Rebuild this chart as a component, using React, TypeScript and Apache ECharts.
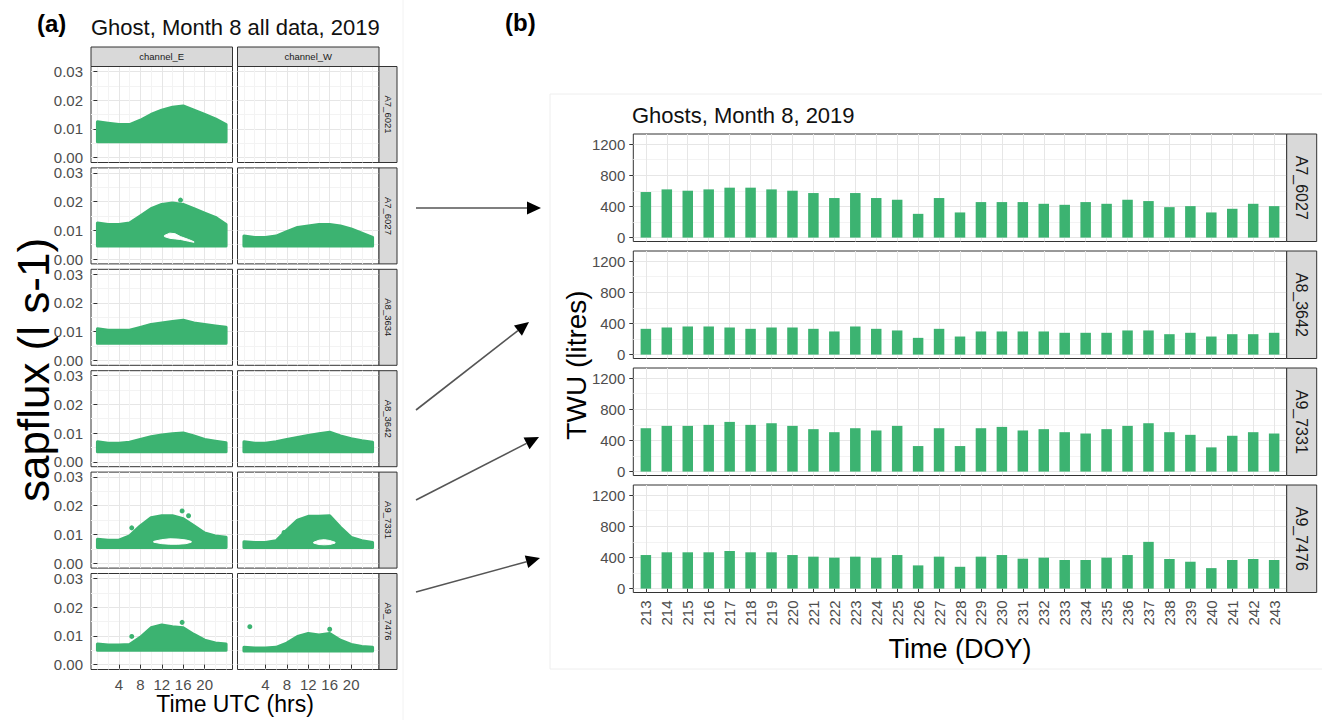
import React, { useEffect, useRef } from 'react';
import * as echarts from 'echarts';

// ---------------- DATA ----------------
// Panel (a): sap flux clouds, envelopes read per 2-hour step
const HOURS = [0, 2, 4, 6, 8, 10, 12, 14, 16, 18, 20, 22, 24];
const ROW_LABELS = ['A7_6021', 'A7_6027', 'A8_3634', 'A8_3642', 'A9_7331', 'A9_7476'];
const COL_LABELS = ['channel_E', 'channel_W'];

const A7_6021_E_HI = [0.0125, 0.012, 0.0115, 0.0115, 0.013, 0.015, 0.0165, 0.0175, 0.018, 0.0165, 0.015, 0.0135, 0.0115];
const A7_6021_E_LO = [0.0055, 0.0055, 0.0055, 0.0055, 0.0055, 0.0055, 0.0055, 0.0055, 0.0055, 0.0055, 0.0055, 0.0055, 0.0055];
const A7_6027_E_HI = [0.0125, 0.012, 0.012, 0.0125, 0.015, 0.0175, 0.019, 0.0195, 0.019, 0.0175, 0.016, 0.0145, 0.012];
const A7_6027_E_LO = [0.0045, 0.0045, 0.0045, 0.0045, 0.0045, 0.0045, 0.0045, 0.0045, 0.0045, 0.0045, 0.0045, 0.0045, 0.0045];
const A7_6027_W_HI = [0.008, 0.0075, 0.0075, 0.008, 0.0095, 0.011, 0.0115, 0.012, 0.012, 0.0115, 0.0105, 0.009, 0.0075];
const A7_6027_W_LO = [0.0045, 0.0045, 0.0045, 0.0045, 0.0045, 0.0045, 0.0045, 0.0045, 0.0045, 0.0045, 0.0045, 0.0045, 0.0045];
const A8_3634_E_HI = [0.011, 0.0105, 0.0105, 0.0105, 0.0115, 0.0125, 0.013, 0.0135, 0.014, 0.013, 0.0125, 0.012, 0.0115];
const A8_3634_E_LO = [0.006, 0.006, 0.006, 0.006, 0.006, 0.006, 0.006, 0.006, 0.006, 0.006, 0.006, 0.006, 0.006];
const A8_3642_E_HI = [0.007, 0.0065, 0.0065, 0.0068, 0.0078, 0.0087, 0.0093, 0.0098, 0.01, 0.009, 0.0078, 0.0072, 0.0066];
const A8_3642_E_LO = [0.0035, 0.0035, 0.0035, 0.0035, 0.0035, 0.0035, 0.0035, 0.0035, 0.0035, 0.0035, 0.0035, 0.0035, 0.0035];
const A8_3642_W_HI = [0.007, 0.0065, 0.0065, 0.007, 0.0078, 0.0085, 0.0092, 0.0098, 0.0103, 0.009, 0.008, 0.0073, 0.0068];
const A8_3642_W_LO = [0.0035, 0.0035, 0.0035, 0.0035, 0.0035, 0.0035, 0.0035, 0.0035, 0.0035, 0.0035, 0.0035, 0.0035, 0.0035];
const A9_7331_E_HI = [0.0083, 0.008, 0.008, 0.0095, 0.013, 0.0158, 0.0165, 0.0165, 0.0155, 0.013, 0.0105, 0.0095, 0.009];
const A9_7331_E_LO = [0.0055, 0.0055, 0.0055, 0.0055, 0.0055, 0.0055, 0.0055, 0.0055, 0.0055, 0.0055, 0.0055, 0.0055, 0.0055];
const A9_7331_W_HI = [0.0075, 0.0072, 0.0072, 0.0078, 0.0115, 0.015, 0.0163, 0.0163, 0.0165, 0.0125, 0.009, 0.0078, 0.0072];
const A9_7331_W_LO = [0.0055, 0.0055, 0.0055, 0.0055, 0.0055, 0.0055, 0.0055, 0.0055, 0.0055, 0.0055, 0.0055, 0.0055, 0.0055];
const A9_7476_E_HI = [0.0072, 0.0068, 0.0068, 0.007, 0.0095, 0.0128, 0.0138, 0.0132, 0.0128, 0.0105, 0.0085, 0.0075, 0.0072];
const A9_7476_E_LO = [0.005, 0.005, 0.005, 0.005, 0.005, 0.005, 0.005, 0.005, 0.005, 0.005, 0.005, 0.005, 0.005];
const A9_7476_W_HI = [0.006, 0.0058, 0.0058, 0.006, 0.0075, 0.0098, 0.0108, 0.0103, 0.0108, 0.0085, 0.007, 0.0063, 0.006];
const A9_7476_W_LO = [0.0047, 0.0047, 0.0047, 0.0047, 0.0047, 0.0047, 0.0047, 0.0047, 0.0047, 0.0047, 0.0047, 0.0047, 0.0047];

// white gaps inside clouds
const HOLE_A7_6027_E_H = [12.5, 13.5, 14.5, 15.5, 17, 18];
const HOLE_A7_6027_E_HI = [0.0082, 0.009, 0.0088, 0.0078, 0.0068, 0.006];
const HOLE_A7_6027_E_LO = [0.0078, 0.0072, 0.007, 0.0068, 0.0062, 0.0058];
const HOLE_A9_7331_E_H = [10.5, 12, 13.5, 15, 16.5, 17.5];
const HOLE_A9_7331_E_HI = [0.0076, 0.0082, 0.0085, 0.0084, 0.0081, 0.0076];
const HOLE_A9_7331_E_LO = [0.0073, 0.0068, 0.0066, 0.0066, 0.0068, 0.0073];
const HOLE_A9_7331_W_H = [13, 14, 15, 16, 17];
const HOLE_A9_7331_W_HI = [0.0073, 0.008, 0.0082, 0.0079, 0.0073];
const HOLE_A9_7331_W_LO = [0.007, 0.0065, 0.0064, 0.0065, 0.007];

// isolated points [hour, flux]
const PTS_A9_7331_E = [[6.4, 0.0123], [15.8, 0.0182], [17, 0.0165]];
const PTS_A9_7331_W = [[7.5, 0.0107]];
const PTS_A9_7476_E = [[6.4, 0.0098], [15.8, 0.0147]];
const PTS_A9_7476_W = [[1.1, 0.0132], [16, 0.0123]];
const PTS_A7_6027_E = [[15.5, 0.0205]];

const SAP_Y_TICKS = [0, 0.01, 0.02, 0.03];
const SAP_Y_MINOR = [0.005, 0.015, 0.025];
const HOUR_TICKS = [4, 8, 12, 16, 20];
const HOUR_MINOR = [0, 2, 6, 10, 14, 18, 22, 24];

// Panel (b): tree water use (litres) per day of year
const DOY = [213, 214, 215, 216, 217, 218, 219, 220, 221, 222, 223, 224, 225, 226, 227, 228, 229, 230, 231, 232, 233, 234, 235, 236, 237, 238, 239, 240, 241, 242, 243];
const BAR_ROWS = ['A7_6027', 'A8_3642', 'A9_7331', 'A9_7476'];
const TWU_A7_6027 = [585, 619, 602, 619, 641, 641, 619, 602, 572, 508, 572, 508, 486, 305, 508, 323, 456, 456, 456, 434, 421, 456, 434, 486, 469, 391, 404, 323, 370, 434, 404];
const TWU_A8_3642 = [331, 348, 361, 361, 348, 331, 348, 348, 331, 297, 361, 331, 310, 215, 331, 232, 297, 297, 297, 297, 280, 280, 280, 310, 310, 262, 280, 232, 262, 262, 280];
const TWU_A9_7331 = [557, 587, 587, 600, 638, 600, 621, 587, 545, 506, 557, 528, 587, 328, 557, 328, 557, 574, 528, 545, 506, 489, 545, 587, 621, 506, 472, 311, 460, 506, 489];
const TWU_A9_7476 = [431, 466, 466, 466, 483, 466, 466, 431, 410, 397, 410, 397, 431, 298, 410, 280, 410, 431, 384, 397, 367, 367, 397, 431, 600, 380, 345, 263, 367, 380, 367];
const TWU_Y_TICKS = [0, 400, 800, 1200];
const TWU_Y_MINOR = [200, 600, 1000];

// ---------------- STYLE / LAYOUT ----------------
const FONT = "'Liberation Sans', Arial, Helvetica, sans-serif";
const GREEN = '#3cb371';
const MAJOR = '#e6e6e6';
const MINOR = '#f3f3f3';
const BORDER = '#333333';
const STRIP_FILL = '#d9d9d9';
const TICK_COLOR = '#4d4d4d';

const A_COL_X = [91, 237.5];
const A_COL_W = 141.5;
const A_ROW_T0 = 66.5;
const A_ROW_PITCH = 101.4;
const A_ROW_H = 96;
const A_X_MIN = -1.2;
const A_X_MAX = 25.2;
const A_Y_MIN = -0.0017;
const A_Y_MAX = 0.0317;

const B_X = 633.3;
const B_W = 653.4;
const B_T0 = 134;
const B_PITCH = 117;
const B_H = 107.5;
const B_X_MIN = 212.4;
const B_X_MAX = 243.6;
const B_Y_MIN = -50;
const B_Y_MAX = 1330;

type Band = { hi: number[]; lo: number[]; holes: { h: number[]; hi: number[]; lo: number[] }[]; pts: number[][] };

const PANELS: (Band | null)[][] = [
  [{ hi: A7_6021_E_HI, lo: A7_6021_E_LO, holes: [], pts: [] }, null],
  [
    { hi: A7_6027_E_HI, lo: A7_6027_E_LO, holes: [{ h: HOLE_A7_6027_E_H, hi: HOLE_A7_6027_E_HI, lo: HOLE_A7_6027_E_LO }], pts: PTS_A7_6027_E },
    { hi: A7_6027_W_HI, lo: A7_6027_W_LO, holes: [], pts: [] },
  ],
  [{ hi: A8_3634_E_HI, lo: A8_3634_E_LO, holes: [], pts: [] }, null],
  [
    { hi: A8_3642_E_HI, lo: A8_3642_E_LO, holes: [], pts: [] },
    { hi: A8_3642_W_HI, lo: A8_3642_W_LO, holes: [], pts: [] },
  ],
  [
    { hi: A9_7331_E_HI, lo: A9_7331_E_LO, holes: [{ h: HOLE_A9_7331_E_H, hi: HOLE_A9_7331_E_HI, lo: HOLE_A9_7331_E_LO }], pts: PTS_A9_7331_E },
    { hi: A9_7331_W_HI, lo: A9_7331_W_LO, holes: [{ h: HOLE_A9_7331_W_H, hi: HOLE_A9_7331_W_HI, lo: HOLE_A9_7331_W_LO }], pts: PTS_A9_7331_W },
  ],
  [
    { hi: A9_7476_E_HI, lo: A9_7476_E_LO, holes: [], pts: PTS_A9_7476_E },
    { hi: A9_7476_W_HI, lo: A9_7476_W_LO, holes: [], pts: PTS_A9_7476_W },
  ],
];

const BAR_DATA = [TWU_A7_6027, TWU_A8_3642, TWU_A9_7331, TWU_A9_7476];

function polygonSeries(xi: number, yi: number, hs: number[], hi: number[], lo: number[], color: string, lw: number) {
  return {
    type: 'custom',
    coordinateSystem: 'cartesian2d',
    xAxisIndex: xi,
    yAxisIndex: yi,
    silent: true,
    clip: true,
    data: [[hs[0], lo[0]]],
    encode: { x: 0, y: 1 },
    renderItem: (_params: any, api: any) => {
      const pts: number[][] = [];
      for (let i = 0; i < hs.length; i++) pts.push(api.coord([hs[i], hi[i]]));
      for (let i = hs.length - 1; i >= 0; i--) pts.push(api.coord([hs[i], lo[i]]));
      return {
        type: 'polygon',
        shape: { points: pts },
        style: { fill: color, stroke: color, lineWidth: lw, lineJoin: 'round' },
      };
    },
  };
}

function arrow(x1: number, y1: number, x2: number, y2: number) {
  const ang = Math.atan2(y2 - y1, x2 - x1);
  const L = 14;
  const W = 6.5;
  const bx = x2 - L * Math.cos(ang);
  const by = y2 - L * Math.sin(ang);
  const px = -Math.sin(ang) * W;
  const py = Math.cos(ang) * W;
  return [
    { type: 'line', shape: { x1, y1, x2: bx, y2: by }, style: { stroke: '#555', lineWidth: 1.6 }, z: 100 },
    { type: 'polygon', shape: { points: [[x2, y2], [bx + px, by + py], [bx - px, by - py]] }, style: { fill: '#000' }, z: 100 },
  ];
}

function buildOption() {
  const grid: any[] = [];
  const xAxis: any[] = [];
  const yAxis: any[] = [];
  const series: any[] = [];
  const graphic: any[] = [];

  const txt = (x: number, y: number, text: string, size: number, extra: any = {}) => ({
    type: 'text',
    x,
    y,
    z: 100,
    rotation: extra.rotation || 0,
    style: {
      text,
      fontSize: size,
      fontFamily: FONT,
      fontWeight: extra.bold ? 'bold' : 'normal',
      fill: extra.color || '#000',
      align: extra.align || 'center',
      verticalAlign: 'middle',
    },
  });

  // faint frames of the two sub-figures
  graphic.push({ type: 'line', shape: { x1: 403, y1: 0, x2: 403, y2: 720 }, style: { stroke: '#f2f2f2', lineWidth: 1 }, z: 0 });
  graphic.push({ type: 'rect', shape: { x: 550, y: 94, width: 800, height: 575 }, style: { fill: 'none', stroke: '#eeeeee', lineWidth: 1 }, z: 0 });

  // ---------- panel (a) ----------
  ROW_LABELS.forEach((rowLab, r) => {
    const top = A_ROW_T0 + r * A_ROW_PITCH;
    const bottomRow = r === ROW_LABELS.length - 1;
    COL_LABELS.forEach((_colLab, c) => {
      const gi = grid.length;
      grid.push({
        left: A_COL_X[c], top, width: A_COL_W, height: A_ROW_H,
        show: true, borderColor: BORDER, borderWidth: 1, backgroundColor: '#fff',
        containLabel: false, outerBoundsMode: 'none',
      });
      const xi = xAxis.length;
      xAxis.push({
        type: 'value', gridIndex: gi, min: A_X_MIN, max: A_X_MAX, position: 'bottom',
        axisLine: { show: false },
        axisTick: { show: bottomRow, customValues: HOUR_TICKS, length: 4, lineStyle: { color: BORDER } },
        axisLabel: { show: bottomRow, customValues: HOUR_TICKS, fontSize: 15, color: TICK_COLOR, margin: 7, fontFamily: FONT },
        splitLine: { show: true, lineStyle: { color: MAJOR, width: 1 } },
      });
      xAxis.push({
        type: 'value', gridIndex: gi, min: A_X_MIN, max: A_X_MAX, position: 'bottom',
        axisLine: { show: false },
        axisTick: { show: false, customValues: HOUR_MINOR },
        axisLabel: { show: false },
        splitLine: { show: true, lineStyle: { color: MINOR, width: 1 } },
      });
      const yi = yAxis.length;
      yAxis.push({
        type: 'value', gridIndex: gi, min: A_Y_MIN, max: A_Y_MAX, position: 'left',
        axisLine: { show: false },
        axisTick: { show: c === 0, customValues: SAP_Y_TICKS, length: 4, lineStyle: { color: BORDER } },
        axisLabel: {
          show: c === 0, customValues: SAP_Y_TICKS, fontSize: 15, color: TICK_COLOR, margin: 8, fontFamily: FONT,
          formatter: (v: number) => v.toFixed(2),
        },
        splitLine: { show: true, lineStyle: { color: MAJOR, width: 1 } },
      });
      yAxis.push({
        type: 'value', gridIndex: gi, min: A_Y_MIN, max: A_Y_MAX, position: 'left',
        axisLine: { show: false },
        axisTick: { show: false, customValues: SAP_Y_MINOR },
        axisLabel: { show: false },
        splitLine: { show: true, lineStyle: { color: MINOR, width: 1 } },
      });

      const p = PANELS[r][c];
      if (p) {
        series.push(polygonSeries(xi, yi, HOURS, p.hi, p.lo, GREEN, 3));
        p.holes.forEach((h) => series.push(polygonSeries(xi, yi, h.h, h.hi, h.lo, '#ffffff', 1)));
        if (p.pts.length) {
          series.push({
            type: 'scatter', xAxisIndex: xi, yAxisIndex: yi, data: p.pts, symbolSize: 5, silent: true,
            itemStyle: { color: GREEN, opacity: 1 },
          });
        }
      }
    });
    // right strip
    const sx = A_COL_X[1] + A_COL_W;
    graphic.push({ type: 'rect', shape: { x: sx, y: top, width: 18, height: A_ROW_H }, style: { fill: STRIP_FILL, stroke: BORDER, lineWidth: 1 }, z: 50 });
    graphic.push(txt(sx + 9, top + A_ROW_H / 2, rowLab, 9.5, { rotation: -Math.PI / 2, color: '#1a1a1a' }));
  });
  // top strips
  COL_LABELS.forEach((lab, c) => {
    graphic.push({ type: 'rect', shape: { x: A_COL_X[c], y: 47, width: A_COL_W, height: A_ROW_T0 - 47 }, style: { fill: STRIP_FILL, stroke: BORDER, lineWidth: 1 }, z: 50 });
    graphic.push(txt(A_COL_X[c] + A_COL_W / 2, 47 + (A_ROW_T0 - 47) / 2, lab, 9.5, { color: '#1a1a1a' }));
  });

  // ---------- panel (b) ----------
  BAR_ROWS.forEach((lab, k) => {
    const top = B_T0 + k * B_PITCH;
    const bottomRow = k === BAR_ROWS.length - 1;
    const gi = grid.length;
    grid.push({
      left: B_X, top, width: B_W, height: B_H,
      show: true, borderColor: BORDER, borderWidth: 1, backgroundColor: '#fff',
      containLabel: false, outerBoundsMode: 'none',
    });
    const xi = xAxis.length;
    xAxis.push({
      type: 'value', gridIndex: gi, min: B_X_MIN, max: B_X_MAX, position: 'bottom',
      axisLine: { show: false },
      axisTick: { show: bottomRow, customValues: DOY, length: 4, lineStyle: { color: BORDER } },
      axisLabel: {
        show: bottomRow, customValues: DOY, rotate: 90, fontSize: 15, color: TICK_COLOR, margin: 8, fontFamily: FONT,
        formatter: (v: number) => String(v),
      },
      splitLine: { show: true, lineStyle: { color: MAJOR, width: 1 } },
    });
    const yi = yAxis.length;
    yAxis.push({
      type: 'value', gridIndex: gi, min: B_Y_MIN, max: B_Y_MAX, position: 'left',
      axisLine: { show: false },
      axisTick: { show: true, customValues: TWU_Y_TICKS, length: 4, lineStyle: { color: BORDER } },
      axisLabel: {
        show: true, customValues: TWU_Y_TICKS, fontSize: 15, color: TICK_COLOR, margin: 8, fontFamily: FONT,
        formatter: (v: number) => String(v),
      },
      splitLine: { show: true, lineStyle: { color: MAJOR, width: 1 } },
    });
    yAxis.push({
      type: 'value', gridIndex: gi, min: B_Y_MIN, max: B_Y_MAX, position: 'left',
      axisLine: { show: false },
      axisTick: { show: false, customValues: TWU_Y_MINOR },
      axisLabel: { show: false },
      splitLine: { show: true, lineStyle: { color: MINOR, width: 1 } },
    });
    series.push({
      type: 'bar', xAxisIndex: xi, yAxisIndex: yi, barWidth: 10.5, silent: true,
      data: DOY.map((d, i) => [d, BAR_DATA[k][i]]),
      itemStyle: { color: GREEN },
    });
    const sx = B_X + B_W;
    graphic.push({ type: 'rect', shape: { x: sx, y: top, width: 30, height: B_H }, style: { fill: STRIP_FILL, stroke: BORDER, lineWidth: 1 }, z: 50 });
    graphic.push(txt(sx + 15, top + B_H / 2, lab, 16, { rotation: -Math.PI / 2, color: '#1a1a1a' }));
  });

  // titles and labels
  graphic.push(txt(37, 23, '(a)', 24, { bold: true, align: 'left' }));
  graphic.push(txt(91, 27, 'Ghost, Month 8 all data, 2019', 22, { align: 'left', color: '#111' }));
  graphic.push(txt(505, 22, '(b)', 24, { bold: true, align: 'left' }));
  graphic.push(txt(632, 115, 'Ghosts, Month 8, 2019', 22, { align: 'left', color: '#111' }));
  graphic.push(txt(33, 370, 'sapflux (l s-1)', 44, { rotation: Math.PI / 2 }));
  graphic.push(txt(235, 704, 'Time UTC (hrs)', 23));
  graphic.push(txt(576, 365, 'TWU (litres)', 28, { rotation: Math.PI / 2 }));
  graphic.push(txt(960, 649, 'Time (DOY)', 27));

  // arrows linking panels
  graphic.push(...arrow(416, 208, 541, 208));
  graphic.push(...arrow(416, 410, 529, 322));
  graphic.push(...arrow(416, 500, 539, 437));
  graphic.push(...arrow(416, 592, 540, 558));

  return {
    animation: false,
    backgroundColor: '#ffffff',
    grid,
    xAxis,
    yAxis,
    series,
    graphic: { elements: graphic },
  };
}

export default function App() {
  const ref = useRef<HTMLDivElement>(null);
  useEffect(() => {
    if (!ref.current) return;
    const chart = echarts.init(ref.current, null, { renderer: 'svg' });
    chart.setOption(buildOption() as any);
    return () => chart.dispose();
  }, []);
  return <div ref={ref} style={{ position: 'absolute', left: 0, top: 0, width: 1322, height: 720 }} />;
}
